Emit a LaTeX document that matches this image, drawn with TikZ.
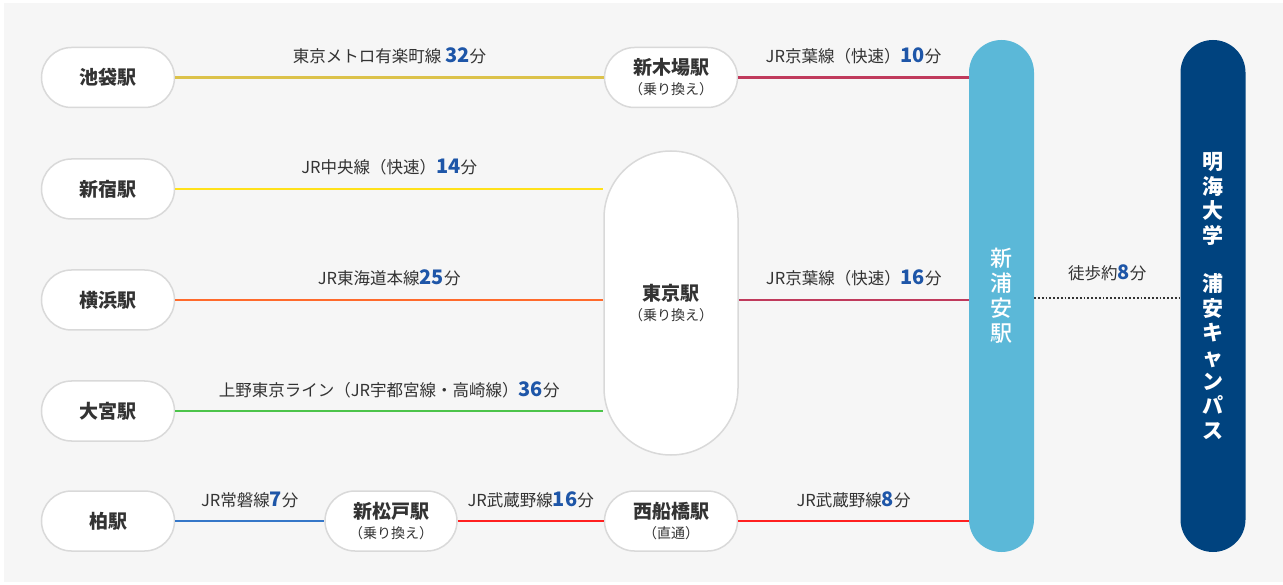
\documentclass[tikz,border=0pt]{standalone}
\usepackage{fontspec}
\setmainfont{Noto Sans CJK JP}
\newfontfamily\jpmed{Noto Sans CJK JP}[UprightFont=* Medium]
\usepackage{tikz}
\usetikzlibrary{positioning}
\definecolor{bggray}{HTML}{F6F6F6}
\definecolor{pillgray}{HTML}{D9D9D9}
\definecolor{txt}{HTML}{333333}
\definecolor{numblue}{HTML}{1E56A8}
\definecolor{yurakucho}{HTML}{DCC24A}
\definecolor{chuo}{HTML}{FFE11A}
\definecolor{tokaido}{HTML}{FF6A2B}
\definecolor{ueno}{HTML}{4CC44A}
\definecolor{keiyo}{HTML}{C03A5C}
\definecolor{joban}{HTML}{3577C8}
\definecolor{musashino}{HTML}{FF2020}
\definecolor{skyb}{HTML}{5BB8D8}
\definecolor{navy}{HTML}{00437F}
\newcommand{\fun}[1]{{\fontsize{20}{20}\selectfont\bfseries\color{numblue}#1}}
\newcommand{\via}[1]{\\[-1pt]{\fontsize{14}{15}\selectfont\mdseries #1}}

\begin{document}
\begin{tikzpicture}[x=1pt,y=-1pt]

\tikzset{station/.style={
  rectangle,
  inner sep=0pt,
  align=center,
  draw=pillgray, line width=1.5pt, fill=white,
  minimum width=133pt, minimum height=60pt,
  rounded corners=30pt,
  text=txt, font=\fontsize{19}{21}\selectfont\bfseries
  }}
\tikzset{bar/.style={
  rectangle,
  inner sep=0pt,
  align=center,
  minimum width=65pt, minimum height=512pt,
  rounded corners=32.5pt,
  text=white
  }}
\tikzset{rail/.style={line width=2.5pt}}
\tikzset{lbl/.style={midway, anchor=base, yshift=15pt, inner sep=0pt,
  text=txt, font=\fontsize{16.5}{16.5}\selectfont}}

\useasboundingbox (0,0) rectangle (1283,585);
\fill[bggray] (4,3) rectangle (1283,582);

% left column
\node[station] (ikebukuro) at (108,77.5) {池袋駅};
\node[station] (shinjuku) at (108,189) {新宿駅};
\node[station] (yokohama) at (108,300) {横浜駅};
\node[station] (omiya) at (108,411) {大宮駅};
\node[station] (kashiwa) at (108,521) {柏駅};

% transfer stations
\node[station] (shinkiba) at (671,77.5) {新木場駅\via{（乗り換え）}};
\node[station, minimum width=134pt, minimum height=304pt, rounded corners=67pt] (tokyo) at (671,303) {東京駅\via{（乗り換え）}};
\node[station, minimum width=132pt] (shinmatsudo) at (391,521) {新松戸駅\via{（乗り換え）}};
\node[station] (nishifunabashi) at (671,521) {西船橋駅\via{（直通）}};

% goal
\node[bar, fill=skyb, font=\fontsize{22}{25}\selectfont\jpmed] (urayasu) at (1001.5,296) {新\\浦\\安\\駅};
\node[bar, fill=navy, font=\fontsize{21}{24.4}\selectfont\bfseries] (meikai) at (1213,296) {明\\海\\大\\学\\\mbox{}\\浦\\安\\キ\\ャ\\ン\\パ\\ス};

\draw[rail, yurakucho] (ikebukuro) -- node[lbl] {東京メトロ有楽町線 \fun{32}分} (shinkiba);
\draw[rail, keiyo] (shinkiba) -- node[lbl] {JR京葉線（快速）\fun{10}分} (shinkiba -| urayasu.west);
\draw[rail, chuo] (shinjuku) -- node[lbl] {JR中央線（快速）\fun{14}分} (shinjuku -| tokyo.west);
\draw[rail, tokaido] (yokohama) -- node[lbl] {JR東海道本線\fun{25}分} (yokohama -| tokyo.west);
\draw[rail, ueno] (omiya) -- node[lbl] {上野東京ライン（JR宇都宮線・高崎線）\fun{36}分} (omiya -| tokyo.west);
\draw[rail, keiyo] (yokohama -| tokyo.east) -- node[lbl] {JR京葉線（快速）\fun{16}分} (yokohama -| urayasu.west);
\draw[rail, joban] (kashiwa) -- node[lbl] {JR常磐線\fun{7}分} (shinmatsudo);
\draw[rail, musashino] (shinmatsudo) -- node[lbl] {JR武蔵野線\fun{16}分} (nishifunabashi);
\draw[rail, musashino] (nishifunabashi) -- node[lbl] {JR武蔵野線\fun{8}分} (nishifunabashi -| urayasu.west);
\draw[line width=1.8pt, txt, dotted] ([yshift=2pt]yokohama -| urayasu.east) -- node[lbl, yshift=3pt] {徒歩約\fun{8}分} ([yshift=2pt]yokohama -| meikai.west);
\end{tikzpicture}
\end{document}
